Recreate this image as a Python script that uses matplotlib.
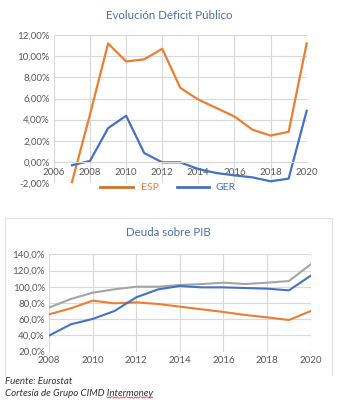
import matplotlib.pyplot as plt
import numpy as np
from matplotlib.lines import Line2D

# Deficit data (% of GDP)
years_def = [2007, 2008, 2009, 2010, 2011, 2012, 2013, 2014, 2015, 2016, 2017, 2018, 2019, 2020]
esp_def = [-1.9, 4.5, 11.2, 9.5, 9.7, 10.7, 7.0, 5.9, 5.1, 4.3, 3.05, 2.5, 2.85, 11.2]
ger_def = [-0.3, 0.1, 3.2, 4.37, 0.85, -0.03, -0.03, -0.66, -1.04, -1.26, -1.45, -1.82, -1.57, 4.84]

# Debt data (% of GDP)
years_debt = [2008, 2009, 2010, 2011, 2012, 2013, 2014, 2015, 2016, 2017, 2018, 2019, 2020]
debt_gray = [74.3, 84.9, 92.7, 96.9, 100.1, 100.1, 102.2, 103.4, 105.1, 103.4, 105.1, 107.1, 127.7]
debt_orange = [66.0, 73.4, 82.9, 79.6, 80.8, 78.8, 75.5, 72.2, 68.9, 65.2, 62.3, 59.0, 70.1]
debt_blue = [39.7, 53.7, 60.3, 70.1, 87.0, 96.8, 101.0, 99.3, 99.3, 98.5, 97.7, 95.6, 113.7]

ORANGE = '#ED7D31'
BLUE = '#4472C4'
GRAY = '#A5A5A5'
GRID = '#D9D9D9'
TXT = '#595959'
TITLE = '#4A6FAE'

plt.rcParams['font.family'] = ['Lato', 'DejaVu Sans']

fig = plt.figure(figsize=(3.37, 4.0), dpi=100)

# ---- top chart
ax1 = fig.add_axes([0.160, 0.542, 0.750, 0.3705])
ax1.plot(years_def, esp_def, color=ORANGE, lw=1.6, clip_on=False)
ax1.plot(years_def, ger_def, color=BLUE, lw=1.6, clip_on=False)
ax1.set_xlim(2006, 2020)
ax1.set_ylim(-2, 12)
ax1.set_xticks(range(2006, 2021, 2))
ax1.set_yticks(range(-2, 13, 2))
ax1.set_yticklabels([f'{v:.2f}%'.replace('.', ',') for v in range(-2, 13, 2)])
ax1.grid(True, color=GRID, lw=0.8)
ax1.set_axisbelow(True)
for s in ['top', 'right', 'left']:
    ax1.spines[s].set_visible(False)
ax1.spines['bottom'].set_position(('data', 0))
ax1.spines['bottom'].set_color(GRID)
ax1.tick_params(length=0, labelsize=7, colors=TXT, pad=3)
ax1.tick_params(axis='x', pad=4.5)
fig.text(0.502, 0.962, 'Evolución Déficit Público', color=TITLE, fontsize=8.3,
         ha='center', va='center')

# legend
fig.add_artist(Line2D([100 / 337, 133 / 337], [1 - 187 / 400] * 2, color='#D0732A', lw=2))
fig.text(141 / 337, 1 - 187 / 400, 'ESP', color=ORANGE, fontsize=7.5, va='center')
fig.add_artist(Line2D([177 / 337, 209 / 337], [1 - 187 / 400] * 2, color=BLUE, lw=2))
fig.text(215 / 337, 1 - 187 / 400, 'GER', color=BLUE, fontsize=7.5, va='center')

# ---- bottom chart
ax2 = fig.add_axes([0.1454, 0.121, 0.7766, 0.243])
ax2.plot(years_debt, debt_gray, color=GRAY, lw=1.5)
ax2.plot(years_debt, debt_orange, color=ORANGE, lw=1.5)
ax2.plot(years_debt, debt_blue, color=BLUE, lw=1.5)
ax2.set_xlim(2008, 2020)
ax2.set_ylim(20, 140)
ax2.set_xticks(range(2008, 2021, 2))
ax2.set_yticks(range(20, 141, 20))
ax2.set_yticklabels([f'{v:.1f}%'.replace('.', ',') for v in range(20, 141, 20)])
ax2.grid(True, color=GRID, lw=0.8)
ax2.set_axisbelow(True)
for s in ax2.spines.values():
    s.set_visible(False)
ax2.tick_params(length=0, labelsize=7, colors=TXT, pad=3)
fig.text(0.5, 1 - 233 / 400, 'Deuda sobre PIB', color=TITLE, fontsize=8.3,
         ha='center', va='center')

# chart border
bx0, bx1 = 5 / 337, 332 / 337
by0, by1 = 1 - 375 / 400, 1 - 218 / 400
fig.add_artist(Line2D([bx0, bx0, bx1, bx1], [by0, by1, by1, by0], color='#E3E3E3', lw=0.8))

# footnote
fig.text(5 / 337, 1 - 382 / 400, 'Fuente: Eurostat', fontsize=7, style='italic',
         color='#333333', va='center')
line2 = fig.text(5 / 337, 1 - 393 / 400, 'Cortesía de Grupo CIMD Intermoney', fontsize=7,
                 style='italic', color='#333333', va='center')

# red squiggle under "Intermoney" (spell-check mark)
fig.canvas.draw()
r = fig.canvas.get_renderer()
prefix = fig.text(5 / 337, 0, 'Cortesía de Grupo CIMD ', fontsize=7, style='italic')
x_start = prefix.get_window_extent(r).x1
prefix.remove()
x_end = line2.get_window_extent(r).x1
wx = np.linspace(x_start, x_end, 40)
wy = (400 - 397.5) + 0.6 * np.sign(np.sin(wx * 2.2))
fig.add_artist(Line2D(wx / 337, wy / 400, color='#E03030', lw=0.5))

fig.savefig('out.png', dpi=100, facecolor='white')
